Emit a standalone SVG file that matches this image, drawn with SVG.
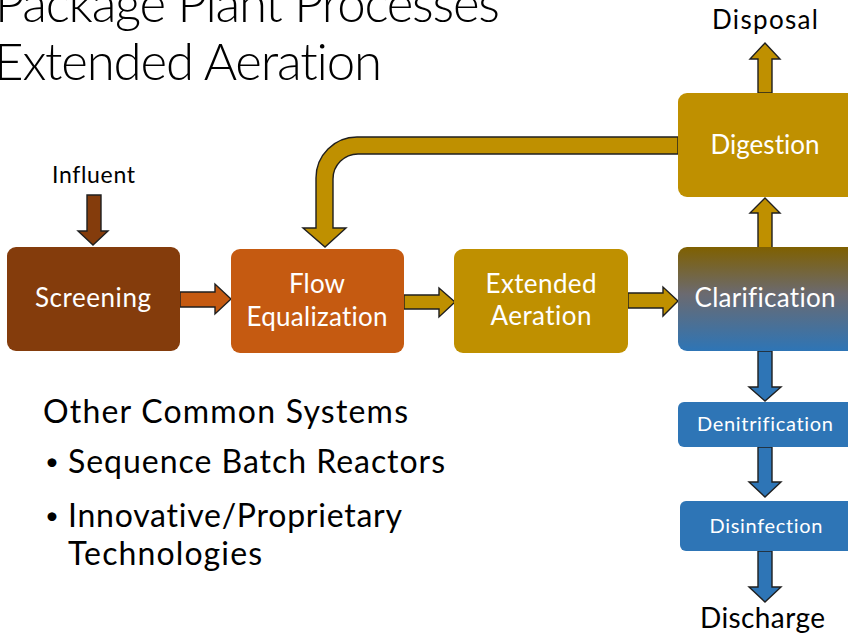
<svg xmlns="http://www.w3.org/2000/svg" width="848" height="641" viewBox="0 0 848 641">
  <defs>
    <linearGradient id="clarGrad" x1="0" y1="0" x2="0" y2="1">
      <stop offset="0" stop-color="#7F6000"/>
      <stop offset="0.45" stop-color="#6B6A70"/>
      <stop offset="1" stop-color="#2E75B6"/>
    </linearGradient>
  </defs>
  <style>
    text { font-family: "Lato", "Open Sans", "Liberation Sans", sans-serif; font-variant-ligatures: none; }
    .title { font-size: 51px; font-weight: 300; fill: #000; }
    .label { font-size: 23px; fill: #000; }
    .body { font-size: 32px; fill: #000; }
    .bullet { font-size: 24px; fill: #000; }
    .node { font-size: 26px; fill: #fff; text-anchor: middle; }
    .small { font-size: 20px; fill: #fff; text-anchor: middle; }
    .arrow { stroke: #1f1f1f; stroke-width: 1.4; stroke-linejoin: miter; }
    .brown { fill: #843C0C; }
    .orange { fill: #C55A11; }
    .gold { fill: #BF9000; }
    .blue { fill: #2E75B6; }
  </style>

  <rect width="848" height="641" fill="#fff"/>

  <!-- heading -->
  <text class="title" x="-5" y="22" textLength="505">Package Plant Processes</text>
  <text class="title" x="-6" y="80" textLength="388">Extended Aeration</text>

  <!-- connectors -->
  <g id="connectors">
    <!-- influent down into screening -->
    <path class="arrow brown" d="M87,195 H101 V231 H108 L93,245 L78,231 H87 Z"/>
    <!-- screening to flow equalization -->
    <path class="arrow orange" d="M180,292 H215 V284 L231,299 L215,314 V307 H180 Z"/>
    <!-- flow equalization to extended aeration -->
    <path class="arrow gold" d="M404,295 H439 V288 L455,302 L439,317 V309 H404 Z"/>
    <!-- extended aeration to clarification -->
    <path class="arrow gold" d="M628,293 H663 V287 L678,301 L663,316 V308 H628 Z"/>
    <!-- clarification up to digestion -->
    <path class="arrow gold" d="M758,248 V213 H750 L765,198 L780,213 H772 V248 Z"/>
    <!-- digestion up to disposal -->
    <path class="arrow gold" d="M758,93 V59 H750 L765,43 L780,59 H772 V93 Z"/>
    <!-- digested return back to flow equalization -->
    <path class="arrow gold" d="M678,137 H357 A41,41 0 0 0 316,178 V228 H303 L325,247 L346,228 H333 V179 A25,25 0 0 1 358,154 H678 Z"/>
    <!-- clarification down to denitrification -->
    <path class="arrow blue" d="M758,351 V387 H749 L765,401 L781,387 H772 V351 Z"/>
    <!-- denitrification down to disinfection -->
    <path class="arrow blue" d="M758,447 V482 H749 L765,497 L781,482 H772 V447 Z"/>
    <!-- disinfection down to discharge -->
    <path class="arrow blue" d="M758,551 V587 H749 L765,602 L781,587 H772 V551 Z"/>
  </g>

  <!-- process units -->
  <g id="screening">
    <rect x="7" y="247" width="173" height="104" rx="9" class="brown"/>
    <text class="node" x="93" y="307" textLength="116">Screening</text>
  </g>
  <g id="flow-equalization">
    <rect x="231" y="249" width="173" height="104" rx="9" class="orange"/>
    <text class="node" x="317" y="293" textLength="56">Flow</text>
    <text class="node" x="317" y="326" textLength="141">Equalization</text>
  </g>
  <g id="extended-aeration">
    <rect x="454" y="249" width="174" height="104" rx="9" class="gold"/>
    <text class="node" x="541" y="293" textLength="111">Extended</text>
    <text class="node" x="541" y="325" textLength="101">Aeration</text>
  </g>
  <g id="clarification">
    <rect x="678" y="247" width="180" height="104" rx="9" fill="url(#clarGrad)"/>
    <text class="node" x="765" y="307" textLength="141">Clarification</text>
  </g>
  <g id="digestion">
    <rect x="678" y="93" width="180" height="104" rx="9" class="gold"/>
    <text class="node" x="765" y="154" textLength="109">Digestion</text>
  </g>
  <g id="denitrification">
    <rect x="678" y="402" width="180" height="45" rx="6" class="blue"/>
    <text class="small" x="765" y="431" textLength="136">Denitrification</text>
  </g>
  <g id="disinfection">
    <rect x="680" y="501" width="178" height="50" rx="6" class="blue"/>
    <text class="small" x="766" y="533" textLength="113">Disinfection</text>
  </g>

  <!-- stream labels -->
  <g id="influent"><text class="label" x="52" y="183" textLength="83">Influent</text></g>
  <g id="disposal"><text class="label" x="712" y="29" style="font-size:26px" textLength="106">Disposal</text></g>
  <g id="discharge"><text class="label" x="700" y="628" style="font-size:28px" textLength="125">Discharge</text></g>

  <!-- notes -->
  <text class="body" x="43" y="423" textLength="365">Other Common Systems</text>
  <text class="bullet" x="45" y="470">•</text>
  <text class="body" x="68" y="473" textLength="377">Sequence Batch Reactors</text>
  <text class="bullet" x="45" y="524">•</text>
  <text class="body" x="68" y="527" textLength="334">Innovative/Proprietary</text>
  <text class="body" x="68" y="565" textLength="194">Technologies</text>
</svg>
